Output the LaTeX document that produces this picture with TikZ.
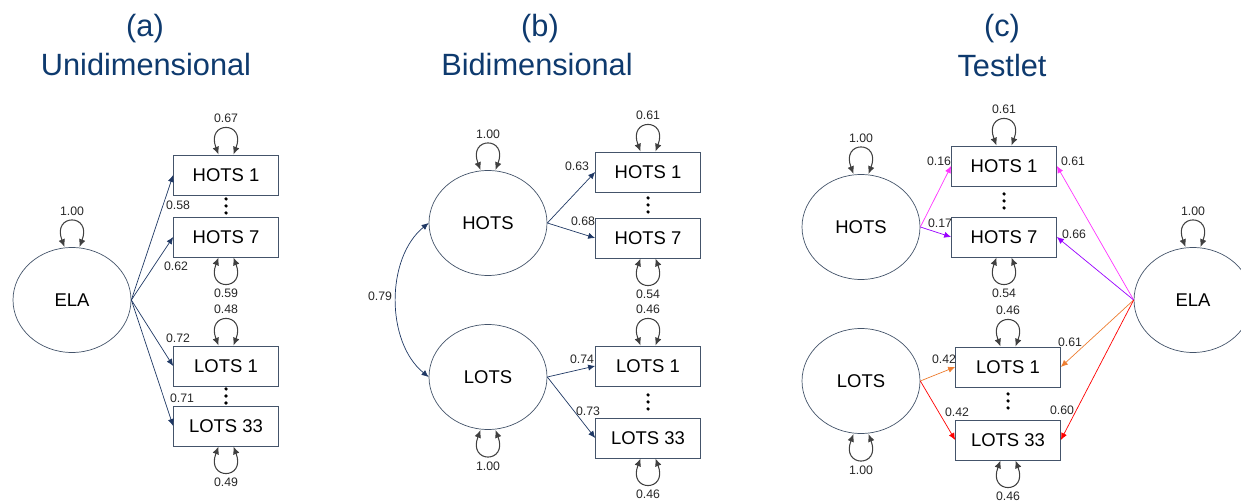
\documentclass[tikz,border=0pt]{standalone}
\usepackage{fontspec}
\setmainfont{Liberation Sans}
\usetikzlibrary{shapes.geometric,arrows.meta}
\definecolor{titleblue}{RGB}{14,58,110}
\definecolor{edgegray}{RGB}{68,84,106}
\definecolor{loadnavy}{RGB}{31,56,100}
\definecolor{loopgray}{RGB}{64,64,64}
\definecolor{hotspink}{RGB}{255,51,255}
\definecolor{hotsviolet}{RGB}{153,0,255}
\definecolor{lotsorange}{RGB}{237,125,49}
\definecolor{lotsred}{RGB}{255,0,0}

\begin{document}
\begin{tikzpicture}[x=0.02cm,y=-0.02cm,
    latent/.style={ellipse,draw=edgegray,minimum width=2.36cm,minimum height=2.1cm,font=\fontsize{10.5}{12}\selectfont},
    item/.style={rectangle,draw=edgegray,minimum width=2.1cm,minimum height=0.8cm,font=\fontsize{10.5}{12}\selectfont},
    load/.style={draw=loadnavy,-{Latex[length=4pt,width=3.5pt]}},
    var/.style={draw=loopgray,line width=0.6pt,{Latex[length=4.5pt,width=3.8pt]}-{Latex[length=4.5pt,width=3.8pt]}},
    num/.style={font=\fontsize{7}{8}\selectfont,text=black!85,inner sep=0pt},
    title/.style={font=\fontsize{17.5}{20}\selectfont,text=titleblue}]
    \useasboundingbox (0,0) rectangle (1241,502);
    \clip (0,0) rectangle (1241,502);

    % titles
    \node[title] (ta) at (145,29) {(a)};
    \node[title] (tb) at (540,29) {(b)};
    \node[title] (tc) at (1002,29) {(c)};
    \node[title] (tta) at (146,65) {Unidimensional};
    \node[title] (ttb) at (537,65) {Bidimensional};
    \node[title] (ttc) at (1002,66) {Testlet};

    % (a) unidimensional
    \node[latent] (aela) at (72,300) {ELA};
    \node[item] (ah1) at (226,175) {HOTS 1};
    \node[item] (ah7) at (226,237) {HOTS 7};
    \node[item] (al1) at (226,366) {LOTS 1};
    \node[item] (al33) at (226,426) {LOTS 33};
    \foreach \n in {ah1,ah7,al1,al33}
        \draw[load] (aela.east) -- (\n.west);
    \node[num] at (178,205) {0.58};
    \node[num] at (176,266) {0.62};
    \node[num] at (178,338) {0.72};
    \node[num] at (182,398) {0.71};

    % (b) bidimensional
    \node[latent] (bh) at (488,223) {HOTS};
    \node[latent] (bl) at (488,377) {LOTS};
    \node[item] (bh1) at (648,172) {HOTS 1};
    \node[item] (bh7) at (648,238) {HOTS 7};
    \node[item] (bl1) at (648,366) {LOTS 1};
    \node[item] (bl33) at (648,438) {LOTS 33};
    \draw[load] (bh.east) -- (bh1.west);
    \draw[load] (bh.east) -- (bh7.west);
    \draw[load] (bl.east) -- (bl1.west);
    \draw[load] (bl.east) -- (bl33.west);
    \draw[load,{Latex[length=4pt,width=3.5pt]}-{Latex[length=4pt,width=3.5pt]}] (bh.west) .. controls +(-43,35) and +(-43,-35) .. (bl.west);
    \node[num] at (577,166) {0.63};
    \node[num] at (583,221) {0.68};
    \node[num] at (582,359) {0.74};
    \node[num] at (588,411) {0.73};
    \node[num] at (380,296) {0.79};

    % (c) testlet
    \node[latent] (ch) at (861,227) {HOTS};
    \node[latent] (cl) at (861,381) {LOTS};
    \node[latent] (cela) at (1193,300) {ELA};
    \node[item] (ch1) at (1004,166) {HOTS 1};
    \node[item] (ch7) at (1004,237) {HOTS 7};
    \node[item] (cl1) at (1008,367) {LOTS 1};
    \node[item] (cl33) at (1008,440) {LOTS 33};
    \draw[load,draw=hotspink,color=hotspink] (ch.east) -- (ch1.west);
    \draw[load,draw=hotsviolet,color=hotsviolet] (ch.east) -- (ch7.west);
    \draw[load,draw=lotsorange,color=lotsorange] (cl.east) -- (cl1.west);
    \draw[load,draw=lotsred,color=lotsred] (cl.east) -- (cl33.west);
    \draw[load,draw=hotspink,color=hotspink] (cela.west) -- (ch1.east);
    \draw[load,draw=hotsviolet,color=hotsviolet] (cela.west) -- (ch7.east);
    \draw[load,draw=lotsorange,color=lotsorange] (cela.west) -- (cl1.east);
    \draw[load,draw=lotsred,color=lotsred] (cela.west) -- (cl33.east);
    \node[num] at (939,161) {0.16};
    \node[num] at (940,223) {0.17};
    \node[num] at (944,359) {0.42};
    \node[num] at (957,412) {0.42};
    \node[num] at (1073,161) {0.61};
    \node[num] at (1074,234) {0.66};
    \node[num] at (1070,342) {0.61};
    \node[num] at (1062,410) {0.60};

    % variances
    \foreach \n/\v in {aela/1.00,ah1/0.67,al1/0.48,bh/1.00,bh1/0.61,bl1/0.46,ch/1.00,ch1/0.61,cl1/0.46,cela/1.00} {
        \draw[var] ([xshift=-4.2pt]\n.north) .. controls +(-13,-34) and +(13,-34) .. ([xshift=4.2pt]\n.north);
        \node[num] at ([yshift=20.5pt]\n.north) {\v};
    }
    \foreach \n/\v in {ah7/0.59,al33/0.49,bl/1.00,bh7/0.54,bl33/0.46,cl/1.00,ch7/0.54,cl33/0.46} {
        \draw[var] ([xshift=-4.2pt]\n.south) .. controls +(-13,34) and +(13,34) .. ([xshift=4.2pt]\n.south);
        \node[num] at ([yshift=-20.5pt]\n.south) {\v};
    }

    % ellipsis dots
    \foreach \x/\y in {226/206,226/396,648/205,648/402,1004/201,1008/401}
        \foreach \d in {-7,0,7}
            \fill (\x,\y+\d) circle (1pt);
\end{tikzpicture}
\end{document}
